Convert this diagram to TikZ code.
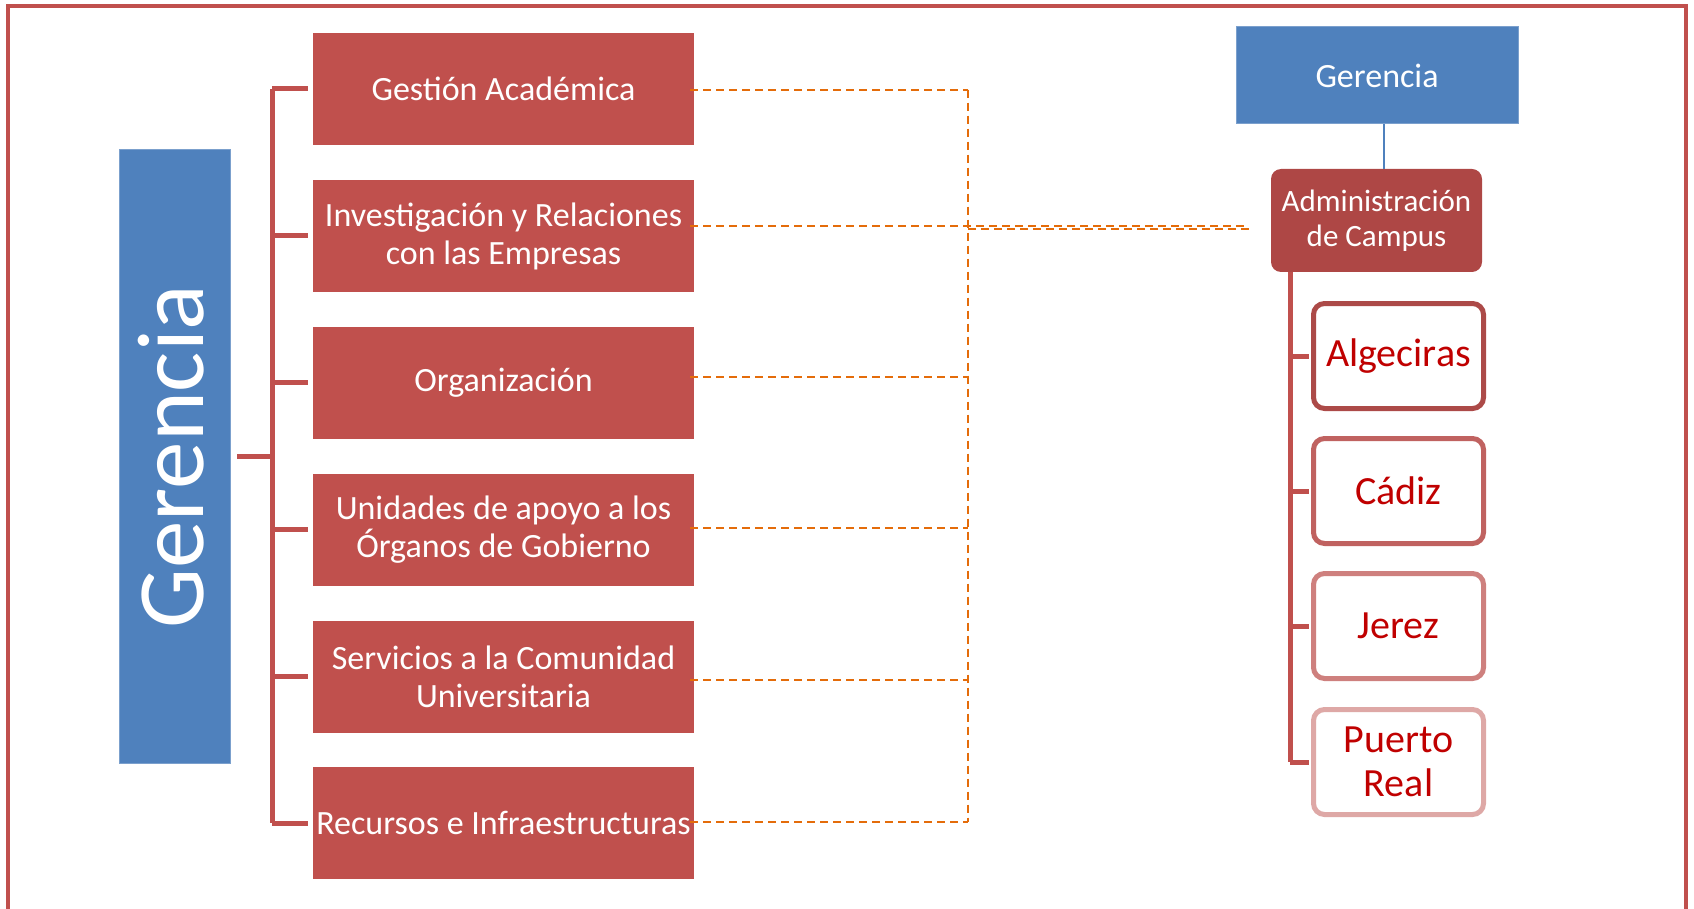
\documentclass[tikz,border=0pt]{standalone}
\usepackage{fontspec}
\setmainfont{Carlito}
\usetikzlibrary{calc}
\definecolor{boxred}{RGB}{192,80,77}
\definecolor{boxblue}{RGB}{79,129,189}
\definecolor{admred}{RGB}{174,71,69}
\definecolor{dashor}{RGB}{228,108,10}
\definecolor{txtred}{RGB}{192,0,0}
\definecolor{brdA}{RGB}{172,74,72}
\definecolor{brdB}{RGB}{192,98,96}
\definecolor{brdC}{RGB}{206,128,126}
\definecolor{brdD}{RGB}{222,168,166}
\begin{document}
\begin{tikzpicture}[x=1pt,y=-1pt,
  unitbox/.style={fill=boxred, text=white, minimum width=381pt, minimum height=112pt, inner sep=0pt, align=center, font=\fontsize{34}{38}\selectfont},
  bluebox/.style={fill=boxblue, draw=boxblue!75!white, line width=1pt, text=white, inner sep=0pt},
  admbox/.style={fill=admred, text=white, rounded corners=10pt, minimum width=211pt, minimum height=103pt, inner sep=0pt, align=center, font=\fontsize{31}{35}\selectfont},
  campbox/.style={fill=white, line width=5pt, rounded corners=11pt, minimum width=170pt, minimum height=105pt, inner sep=0pt, align=center, text=txtred, font=\fontsize{40}{44}\selectfont},
  brk/.style={draw=boxred, line width=5pt},
  dsh/.style={draw=dashor, line width=2pt, dash pattern=on 8pt off 5pt},
]
\useasboundingbox (0,0) rectangle (1694,909);
% outer frame
\draw[boxred, line width=4.5pt] (8,909) -- (8,6) -- (1686,6) -- (1686,909);

% left Gerencia
\node[bluebox, minimum width=111pt, minimum height=613pt] (ger) at (175,456.5) {};
\node[rotate=90, text=white, inner sep=0pt, font=\fontsize{95}{95}\selectfont] (gerlbl) at ($(ger.center)+(-4,0)$) {Gerencia};

% units
\node[unitbox] (g1) at (503.5,89) {Gestión Académica};
\node[unitbox] (g2) at (503.5,236) {Investigación y Relaciones\\con las Empresas};
\node[unitbox] (g3) at (503.5,382.5) {Organización};
\node[unitbox] (g4) at (503.5,529.5) {Unidades de apoyo a los\\Órganos de Gobierno};
\node[unitbox] (g5) at (503.5,676.5) {Servicios a la Comunidad\\Universitaria};
\node[unitbox] (g6) at (503.5,823) {Recursos e Infraestructuras};

% bracket
\coordinate (bx) at (272,0);
\draw[brk] ($(ger.east)+(6,0)$) -- (bx |- ger.east);
\draw[brk] (bx |- g1.west) -- (bx |- g6.west);
\foreach \g in {g1,g2,g3,g4,g5,g6}{
  \draw[brk] (bx |- \g.west) -- ($(\g.west)+(-5,0)$);
}

% right side
\node[bluebox, minimum width=282pt, minimum height=97pt, font=\fontsize{34}{38}\selectfont] (gtop) at (1377,75.5) {Gerencia};
\node[admbox] (adm) at (1376.5,220.5) {Administración\\de Campus};
\draw[boxblue, line width=2pt] (gtop.south -| 1384,0) -- (adm.north -| 1384,0);

\node[campbox, draw=brdA] (c1) at (1398.5,356) {Algeciras};
\node[campbox, draw=brdB] (c2) at (1398.5,491) {Cádiz};
\node[campbox, draw=brdC] (c3) at (1398.5,626) {Jerez};
\node[campbox, draw=brdD] (c4) at (1398.5,762) {Puerto\\Real};

\coordinate (rx) at (1290,0);
\draw[brk] (rx |- adm.south) -- (rx |- c4.west);
\foreach \c in {c1,c2,c3,c4}{
  \draw[brk] (rx |- \c.west) -- ($(\c.west)+(-2,0)$);
}

% dashed connectors
\coordinate (dx) at (968,0);
\coordinate (aend1) at (1247,226);
\coordinate (aend2) at (1249,229);
\draw[dsh] ($(g1.east)+(-4,0.7)$) -- (dx |- 0,89.7);
\draw[dsh] ($(g2.east)+(-4,-10)$) -- (aend1);
\draw[dsh] ($(g3.east)+(-4,-5.5)$) -- (dx |- 0,377);
\draw[dsh] ($(g4.east)+(-4,-1.5)$) -- (dx |- 0,528);
\draw[dsh] ($(g5.east)+(-4,3)$) -- (dx |- 0,679.5);
\draw[dsh] ($(g6.east)+(-4,-1)$) -- (dx |- 0,822);
\draw[dsh] (dx |- 0,89.7) -- (dx |- 0,822);
\draw[dsh] (dx |- aend2) -- (aend2);
\end{tikzpicture}
\end{document}
